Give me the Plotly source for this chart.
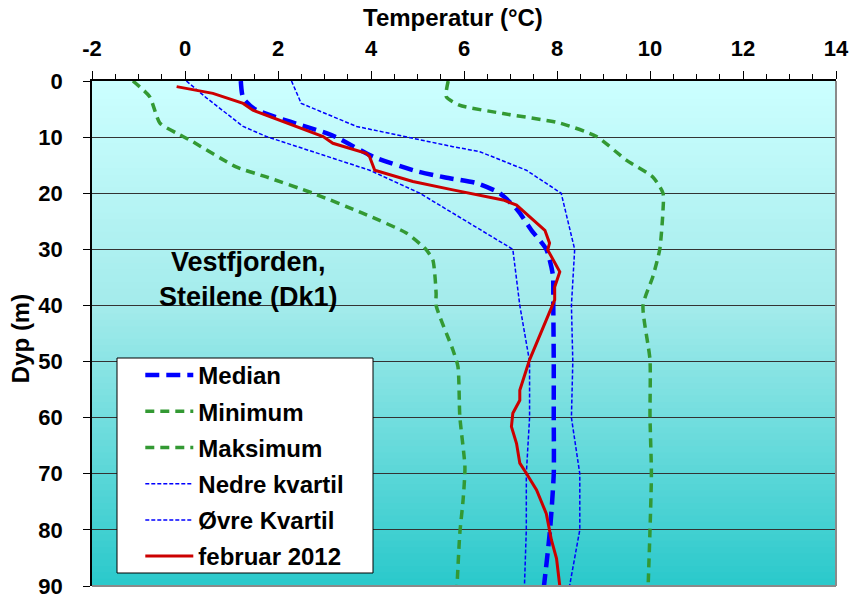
import plotly.graph_objects as go

# ---- data ----
depth_median = [0, 3, 5, 9.3, 10, 13.5, 16, 17.2, 18.2, 20, 23, 26.6, 30, 34.5, 40, 50, 60, 70, 80, 90]
temp_median = [1.2, 1.25, 1.5, 3.04, 3.25, 4.05, 4.95, 5.6, 6.27, 6.77, 7.15, 7.45, 7.77, 7.91, 7.92, 7.93, 7.93, 7.93, 7.85, 7.72]

depth_min = [0, 2.8, 7.5, 9.3, 10.5, 15.3, 17.1, 20, 23.6, 27.1, 30.1, 31.9, 37.8, 40, 47.9, 50.9, 59.8, 68.8, 74.7, 80.6, 90]
temp_min = [-1.12, -0.76, -0.54, -0.18, 0.1, 1.1, 1.75, 2.75, 3.83, 4.76, 5.19, 5.33, 5.4, 5.4, 5.76, 5.87, 5.91, 6.02, 5.98, 5.91, 5.85]

depth_max = [0, 2.8, 4.3, 5.8, 7.5, 9.9, 14.1, 17.1, 20, 23, 30, 34.9, 40, 49.7, 59.8, 70, 80, 90]
temp_max = [5.66, 5.62, 5.9, 6.84, 8.06, 8.85, 9.49, 10.06, 10.28, 10.28, 10.21, 10.06, 9.85, 10.0, 10.0, 10.03, 10.0, 9.96]

depth_lq = [0, 3, 8.1, 9.9, 15.9, 20, 30, 40, 50, 60, 70, 80, 90]
temp_lq = [0.03, 0.46, 1.25, 1.75, 3.97, 5.05, 7.05, 7.2, 7.41, 7.41, 7.34, 7.34, 7.3]

depth_uq = [0, 4, 8.1, 10.5, 11.7, 12.6, 15.9, 20, 30, 40, 50, 60, 70, 80, 90]
temp_uq = [2.29, 2.5, 3.69, 5.05, 5.76, 6.34, 7.34, 8.09, 8.38, 8.31, 8.34, 8.31, 8.49, 8.49, 8.27]

depth_feb = [1.0, 2.2, 4.0, 5.2, 9.9, 11.1, 12.9, 13.5, 15.9, 17.9, 19.4, 21.2, 22.1, 24.2, 26.6, 28.9, 30.1,
             34.0, 36.7, 39.0, 42.6, 46.8, 49.7, 55.1, 56.9, 59.2, 61.6, 64.6, 68.1, 69.9, 72.9, 77.1, 81.8, 85.1, 90.0]
temp_feb = [-0.18, 0.6, 1.25, 1.46, 2.97, 3.18, 3.9, 3.97, 4.08, 4.9, 5.76, 6.84, 7.13, 7.41, 7.74, 7.84, 7.8,
            8.06, 7.95, 7.95, 7.77, 7.56, 7.41, 7.2, 7.2, 7.05, 7.02, 7.13, 7.2, 7.34, 7.56, 7.77, 7.88, 7.99, 8.06]

series_names = ["Median", "Minimum", "Maksimum", "Nedre kvartil", "Øvre Kvartil", "februar 2012"]
x_ticks = [-2, 0, 2, 4, 6, 8, 10, 12, 14]
x_tick_labels = ["-2", "0", "2", "4", "6", "8", "10", "12", "14"]
y_ticks = [0, 10, 20, 30, 40, 50, 60, 70, 80, 90]

FONT = "Liberation Sans, Arial, sans-serif"

fig = go.Figure()

styles = [
    (temp_median, depth_median, dict(color="#0000FF", width=4.5, dash="14px,7px"), "spline"),
    (temp_min, depth_min, dict(color="#339933", width=3.5, dash="9px,6px"), "spline"),
    (temp_max, depth_max, dict(color="#339933", width=3.5, dash="9px,6px"), "spline"),
    (temp_lq, depth_lq, dict(color="#0000FF", width=1.5, dash="4px,2px"), "linear"),
    (temp_uq, depth_uq, dict(color="#0000FF", width=1.5, dash="4px,2px"), "linear"),
    (temp_feb, depth_feb, dict(color="#CC0000", width=3), "linear"),
]
for i, (name, (xs, ys, line, shape)) in enumerate(zip(series_names, styles)):
    line = dict(line)
    line["shape"] = shape
    if shape == "spline":
        line["smoothing"] = 0.6
    fig.add_trace(go.Scatter(x=xs, y=ys, mode="lines", name=name, line=line,
                             legendgroup=f"g{i}"))

# gradient background (bands in axis-domain coords)
stops = [(0.0, (204, 255, 255)), (0.45, (163, 235, 235)), (1.0, (42, 201, 203))]
def col(f):
    for (f0, c0), (f1, c1) in zip(stops[:-1], stops[1:]):
        if f <= f1:
            t = (f - f0) / (f1 - f0)
            return "rgb(%d,%d,%d)" % tuple(round(a + (b - a) * t) for a, b in zip(c0, c1))
    return "rgb(%d,%d,%d)" % stops[-1][1]
shapes = []
N = 80
for k in range(N):
    f = (k + 0.5) / N
    shapes.append(dict(type="rect", xref="x domain", yref="y domain", x0=0, x1=1,
                       y0=1 - (k + 1) / N, y1=1 - k / N + 0.002, fillcolor=col(f),
                       line=dict(width=0), layer="below"))
# right and bottom borders
shapes.append(dict(type="line", xref="x domain", yref="y domain", x0=1, x1=1, y0=0, y1=1,
                   line=dict(color="#8a8a8a", width=2)))
shapes.append(dict(type="line", xref="x domain", yref="y domain", x0=0, x1=1, y0=0, y1=0,
                   line=dict(color="#8a8a8a", width=2)))
# legend frame (white box with black border)
shapes.append(dict(type="rect", xref="x domain", yref="y domain",
                   x0=(117 - 92) / 744, x1=(373 - 92) / 744,
                   y0=(586 - 573) / 505, y1=(586 - 358) / 505,
                   fillcolor="white", line=dict(color="black", width=1), layer="above"))

fig.update_layout(
    width=852, height=595,
    margin=dict(l=92, r=16, t=81, b=9, autoexpand=False),
    paper_bgcolor="white", plot_bgcolor="#CCFFFF",
    font=dict(family=FONT, color="black"),
    shapes=shapes,
    showlegend=True,
    legend=dict(x=0.034, y=(586 - 353) / 505, xanchor="left", yanchor="top",
                bgcolor="rgba(0,0,0,0)", borderwidth=0,
                font=dict(family=FONT, size=24, color="black", weight="bold"),
                tracegroupgap=2, itemwidth=48, traceorder="grouped", indentation=23),
    annotations=[
        dict(text="Temperatur (°C)", xref="paper", yref="paper", x=0.485, y=1.125,
             xanchor="center", yanchor="middle",
             showarrow=False, font=dict(size=24, weight="bold")),
        dict(text="Dyp (m)", xref="paper", yref="paper", x=-0.096, y=0.49, textangle=-90,
             xanchor="center", yanchor="middle",
             showarrow=False, font=dict(size=24, weight="bold")),
        dict(text="Vestfjorden,<br>Steilene (Dk1)", xref="x", yref="y", x=1.37, y=35.3,
             xanchor="center", yanchor="middle",
             showarrow=False, font=dict(size=27, weight="bold")),
    ],
)
fig.update_xaxes(side="top", range=[-2, 14], tickvals=x_ticks, ticktext=x_tick_labels,
                 ticks="outside", ticklen=8, automargin=False, ticklabelstandoff=6,
                 ticklabeloverflow="allow",
                 tickcolor="black", showline=True, linecolor="black", linewidth=1.5,
                 showgrid=False, zeroline=False,
                 tickfont=dict(size=22, weight="bold"),
                 minor=dict(dtick=0.5, ticks="outside", ticklen=5, tickcolor="black"))
fig.update_yaxes(range=[90, 0], tickvals=y_ticks, ticks="outside", ticklen=7,
                 automargin=False, ticklabelstandoff=16, ticklabeloverflow="allow",
                 tickcolor="black", showline=True, linecolor="black", linewidth=1.5,
                 showgrid=True, gridcolor="#333333", gridwidth=1, zeroline=False,
                 tickfont=dict(size=22, weight="bold"))

fig.write_html("out.html", config={"displayModeBar": False},
               post_script="document.body.style.margin='0px';")
